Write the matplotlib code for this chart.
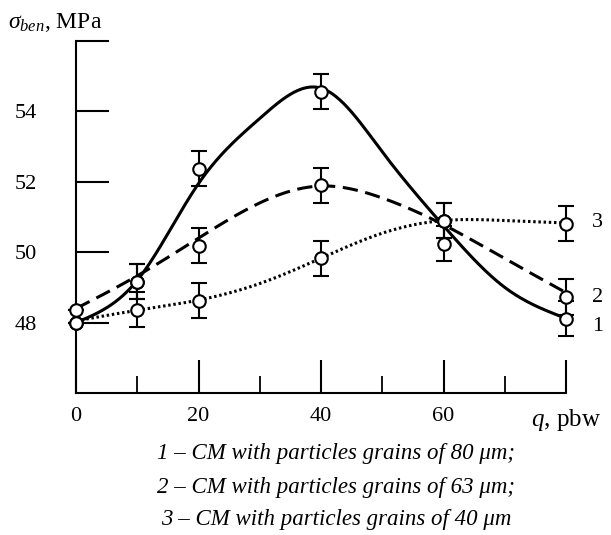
import numpy as np
import matplotlib
matplotlib.use("Agg")
import matplotlib.pyplot as plt

plt.rcParams['font.family'] = ['Liberation Serif', 'DejaVu Serif']
plt.rcParams['mathtext.fontset'] = 'custom'
plt.rcParams['mathtext.rm'] = 'Liberation Serif'
plt.rcParams['mathtext.it'] = 'Liberation Serif:italic'

# measured points (q, pbw) and bending strength, MPa
q_pts = [0, 10, 20, 40, 60, 80]
sig_80 = [48.0, 49.16, 52.37, 54.56, 50.24, 48.11]
sig_63 = [48.37, 49.16, 50.19, 51.9, 50.9, 48.73]
sig_40 = [48.0, 48.37, 48.62, 49.83, 50.9, 50.81]
err = [0.0, 0.5, 0.5, 0.5, 0.5, 0.5]

# smoothed trend lines
q_fit = [0, 10, 20, 30, 40, 50, 60, 70, 80]
fit_80 = [48.0, 49.2, 51.95, 53.8, 54.66, 52.85, 50.75, 49.0, 48.12]
fit_63 = [48.4, 49.33, 50.4, 51.4, 51.88, 51.54, 50.78, 49.82, 48.85]
fit_40 = [48.05, 48.35, 48.64, 49.11, 49.83, 50.54, 50.9, 50.9, 50.83]

captions = [
    "1 \u2013 CM with particles grains of 80 \u03bcm;",
    "2 \u2013 CM with particles grains of 63 \u03bcm;",
    "3 \u2013 CM with particles grains of 40 \u03bcm",
]


def natural_spline(x, y, xs):
    x = np.asarray(x, float)
    y = np.asarray(y, float)
    n = len(x)
    h = np.diff(x)
    A = np.zeros((n, n))
    b = np.zeros(n)
    A[0, 0] = A[-1, -1] = 1
    for i in range(1, n - 1):
        A[i, i - 1] = h[i - 1]
        A[i, i] = 2 * (h[i - 1] + h[i])
        A[i, i + 1] = h[i]
        b[i] = 6 * ((y[i + 1] - y[i]) / h[i] - (y[i] - y[i - 1]) / h[i - 1])
    M = np.linalg.solve(A, b)
    idx = np.clip(np.searchsorted(x, xs) - 1, 0, n - 2)
    x0, x1 = x[idx], x[idx + 1]
    hh = x1 - x0
    t0, t1 = x1 - xs, xs - x0
    return (M[idx] * t0 ** 3 / (6 * hh) + M[idx + 1] * t1 ** 3 / (6 * hh)
            + (y[idx] / hh - M[idx] * hh / 6) * t0
            + (y[idx + 1] / hh - M[idx + 1] * hh / 6) * t1)


fig = plt.figure(figsize=(6.11, 5.35), dpi=100)
ax = fig.add_axes([0.1244, 0.2654, 0.802, 0.658])

xs = np.linspace(0, 80, 400)
styles = [(fit_80, None), (fit_63, (0, (5, 2.5))), (fit_40, (0, (0.8, 0.9)))]
for fit, dash in styles:
    line, = ax.plot(xs, natural_spline(q_fit, fit, xs), color='black', lw=2.2, zorder=2)
    if dash is not None:
        line.set_linestyle(dash)

for sig in (sig_80, sig_63, sig_40):
    eb = ax.errorbar(q_pts, sig, yerr=err, fmt='o', color='black', mfc='white', mec='black',
                     ms=9, mew=1.5, elinewidth=1.5, capsize=6, capthick=1.5, zorder=3)
    for art in eb.lines[0:1] + eb.lines[1] + eb.lines[2]:
        art.set_clip_on(False)

# curve numbers at the right end
for lab, yv in (("3", 50.83), ("2", 48.7), ("1", 47.9)):
    ax.text(85.2, yv, lab, fontsize=16, ha='center', va='center', clip_on=False)

ax.set_xlim(0, 80)
ax.set_ylim(46, 56)
ax.spines['top'].set_visible(False)
ax.spines['right'].set_visible(False)
ax.spines['left'].set_linewidth(1.5)
ax.spines['bottom'].set_linewidth(1.5)

ax.set_xticks([0, 20, 40, 60, 80])
ax.set_xticklabels(['0', '20', '40', '60', '$q$, pbw'])
ax.set_xticks([10, 30, 50, 70], minor=True)
ax.set_yticks([48, 50, 52, 54, 56])
ax.set_yticklabels(['48', '50', '52', '54', ''])
ax.tick_params(axis='both', which='major', direction='in', length=24, width=1.5,
               labelsize=16, pad=10)
ax.tick_params(axis='x', which='minor', direction='in', length=12, width=1.3)
ax.tick_params(axis='y', pad=28)
ax.get_xticklabels()[-1].set_fontsize(18)

fig.text(0.013, 1 - 22 / 535, r'$\sigma_{ben}$, MPa', fontsize=17, ha='left', va='center')

for i, cap in enumerate(captions):
    fig.text(0.55, 1 - (454 + 33 * i) / 535, cap, fontsize=16.5, style='italic',
             ha='center', va='center')

fig.savefig('out.png', dpi=100)
